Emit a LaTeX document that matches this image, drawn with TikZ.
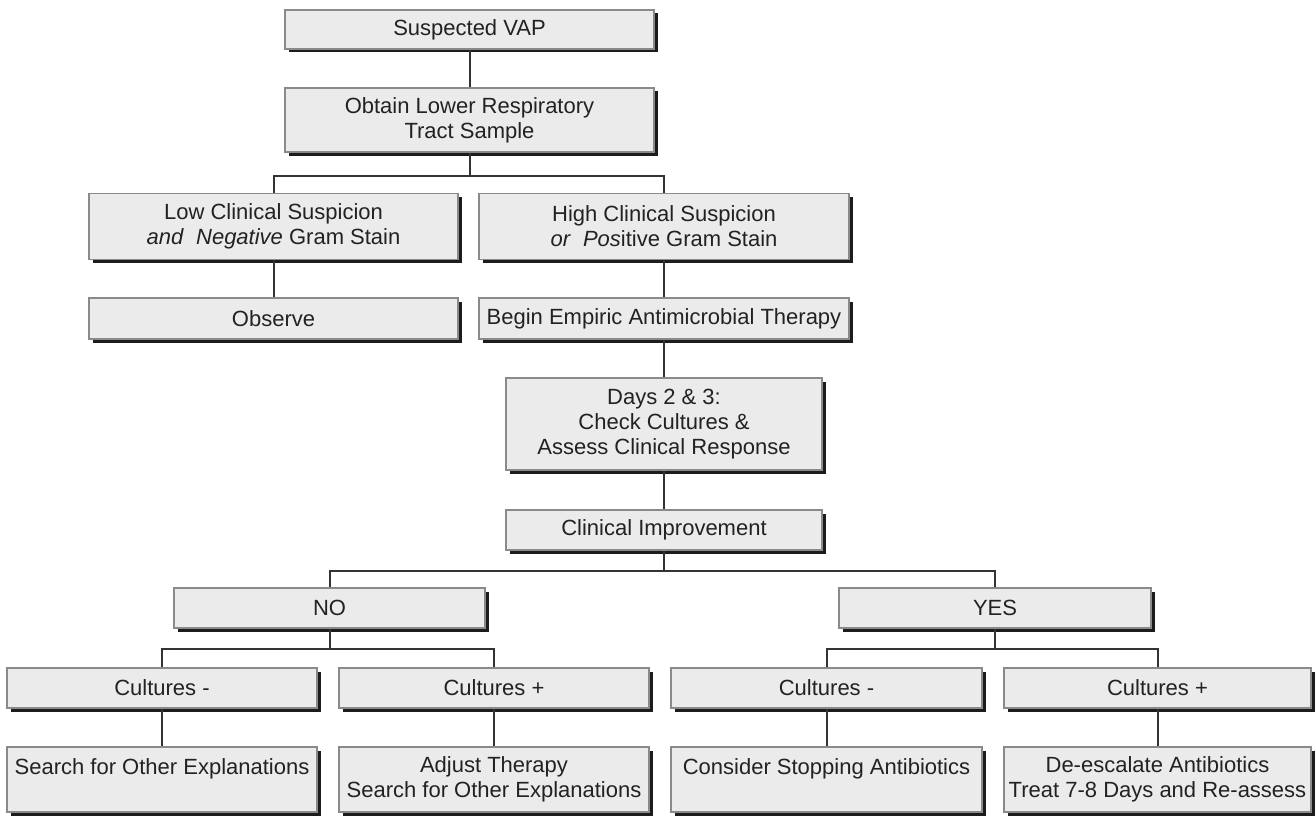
\documentclass[tikz,border=0pt]{standalone}
\usepackage{fontspec}
\setmainfont{Liberation Sans}
\usetikzlibrary{shadows}
\definecolor{boxfill}{HTML}{EBEBEB}
\definecolor{boxline}{HTML}{8A8A8A}
\definecolor{linkcol}{HTML}{333333}
\definecolor{txtcol}{HTML}{222222}
\definecolor{shadowcol}{HTML}{1C1C1C}
\tikzset{
  box/.style={draw=boxline, line width=1.2pt, fill=boxfill, inner sep=0pt,
    align=center, text=txtcol,
    font=\fontsize{22}{25}\selectfont,
    general shadow={shadow xshift=3.5pt, shadow yshift=-3.5pt, fill=shadowcol}},
  link/.style={draw=linkcol, line width=2pt},
}
\begin{document}
\begin{tikzpicture}[x=1pt,y=-1pt]
\useasboundingbox (0,0) rectangle (1315,816);
% row 1-2
\node[box, minimum width=369pt, minimum height=39pt] (vap) at (469.5,29.5) {Suspected VAP};
\node[box, minimum width=369pt, minimum height=64pt] (obtain) at (469.5,120) {Obtain Lower Respiratory\\Tract Sample};
% row 3
\node[box, minimum width=369pt, minimum height=66pt] (low) at (273.5,226.5) {Low Clinical Suspicion\\\textit{and}\ \ \textit{Negative} Gram Stain};
\node[box, minimum width=370pt, minimum height=66pt] (high) at (664,226.5) {High Clinical Suspicion\\\textit{or}\ \ \textit{Pos}itive Gram Stain};
% row 4
\node[box, minimum width=369pt, minimum height=41pt] (observe) at (273.5,318.5) {Observe};
\node[box, minimum width=370pt, minimum height=41pt] (begin) at (664,318.5) {Begin Empiric Antimicrobial Therapy};
% row 5-6
\node[box, minimum width=316pt, minimum height=92pt] (days) at (664,424) {Days 2 \& 3:\\Check Cultures \&\\Assess Clinical Response};
\node[box, minimum width=316pt, minimum height=40pt] (improve) at (664,530) {Clinical Improvement};
% row 7
\node[box, minimum width=311pt, minimum height=40pt] (no) at (329.5,608) {NO};
\node[box, minimum width=312pt, minimum height=40pt] (yes) at (995,608) {YES};
% row 8
\node[box, minimum width=310pt, minimum height=40pt] (cm1) at (162,688) {Cultures -};
\node[box, minimum width=310pt, minimum height=40pt] (cp1) at (494,688) {Cultures +};
\node[box, minimum width=311pt, minimum height=40pt] (cm2) at (826.5,688) {Cultures -};
\node[box, minimum width=307pt, minimum height=40pt] (cp2) at (1157.5,688) {Cultures +};
% row 9
\node[box, minimum width=310pt, minimum height=65pt] (b1) at (162,779.5) {Search for Other Explanations\\\mbox{}};
\node[box, minimum width=310pt, minimum height=65pt] (b2) at (494,779.5) {Adjust Therapy\\Search for Other Explanations};
\node[box, minimum width=311pt, minimum height=65pt] (b3) at (826.5,779.5) {Consider Stopping Antibiotics\\\mbox{}};
\node[box, minimum width=307pt, minimum height=65pt] (b4) at (1157.5,779.5) {De-escalate Antibiotics\\Treat 7-8 Days and Re-assess};
% junctions
\coordinate (j1) at (469.5,176);
\coordinate (j2) at (664,571);
\coordinate (j3) at (329.5,649);
\coordinate (j4) at (995,649);
% connectors
\path[link] (vap.south) -- (obtain.north);
\path[link] (obtain.south) -- (j1);
\path[link] (low.north) |- (j1) -| (high.north);
\path[link] (low.south) -- (observe.north);
\path[link] (high.south) -- (begin.north);
\path[link] (begin.south) -- (days.north);
\path[link] (days.south) -- (improve.north);
\path[link] (improve.south) -- (j2);
\path[link] (no.north) |- (j2) -| (yes.north);
\path[link] (no.south) -- (j3);
\path[link] (cm1.north) |- (j3) -| (cp1.north);
\path[link] (yes.south) -- (j4);
\path[link] (cm2.north) |- (j4) -| (cp2.north);
\path[link] (cm1.south) -- (b1.north);
\path[link] (cp1.south) -- (b2.north);
\path[link] (cm2.south) -- (b3.north);
\path[link] (cp2.south) -- (b4.north);
\end{tikzpicture}
\end{document}
